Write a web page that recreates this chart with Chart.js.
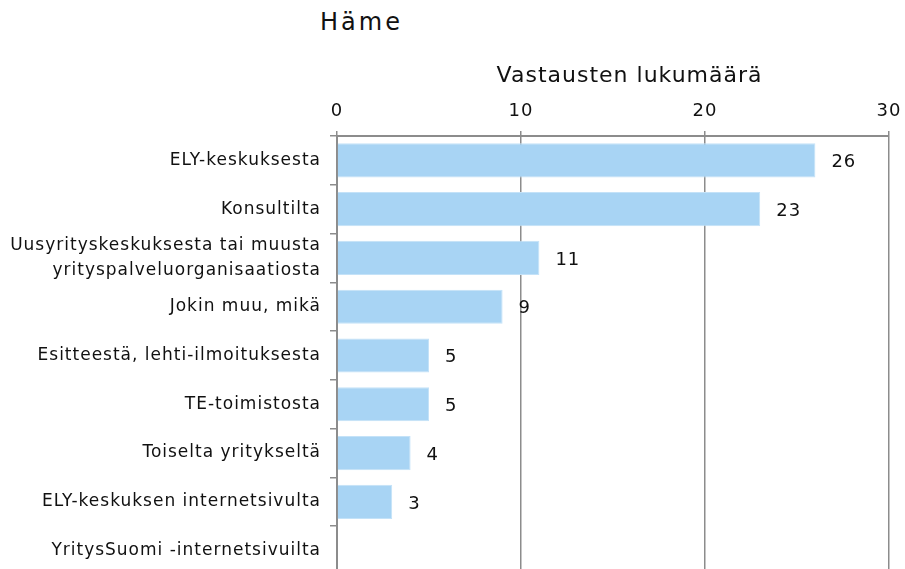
<!DOCTYPE html>
<html>
<head>
<meta charset="utf-8">
<script src="https://cdn.jsdelivr.net/npm/chart.js@4.4.1/dist/chart.umd.min.js"></script>
<style>
  body { margin: 0; background: #fff; }
  #wrap { position: relative; width: 905px; height: 569px; overflow: hidden; }
  #title { position: absolute; left: 320px; top: 8px; font: 24px "DejaVu Sans", sans-serif; letter-spacing: 3px; color: #111; }
  #c { position: absolute; left: 0; top: 0; }
</style>
</head>
<body>
<div id="wrap">
  <div id="title">Häme</div>
  <canvas id="c" width="905" height="579"></canvas>
</div>
<script>
const categories = [
  'ELY-keskuksesta',
  'Konsultilta',
  ['Uusyrityskeskuksesta tai muusta', 'yrityspalveluorganisaatiosta'],
  'Jokin muu, mikä',
  'Esitteestä, lehti-ilmoituksesta',
  'TE-toimistosta',
  'Toiselta yritykseltä',
  'ELY-keskuksen internetsivulta',
  'YritysSuomi -internetsivuilta'
];
const responses = [26, 23, 11, 9, 5, 5, 4, 3, null];
const xTicks = [0, 10, 20, 30];
const axisTitle = 'Vastausten lukumäärä';

const spacing = {
  id: 'spacing',
  beforeUpdate(chart) { chart.ctx.letterSpacing = '1px'; },
  beforeDraw(chart) { chart.ctx.letterSpacing = '1px'; }
};

// axis title, sitting a bit right of centre like the original
const topTitle = {
  id: 'topTitle',
  afterDraw(chart) {
    const ctx = chart.ctx;
    const x = chart.scales.x.getPixelForValue(15.9);
    ctx.save();
    ctx.font = '22px "DejaVu Sans", sans-serif';
    ctx.fillStyle = '#111';
    ctx.textAlign = 'center';
    ctx.textBaseline = 'middle';
    ctx.fillText(axisTitle, x, 76);
    ctx.restore();
  }
};

// value labels to the right of each bar
const valueLabels = {
  id: 'valueLabels',
  afterDatasetsDraw(chart) {
    const ctx = chart.ctx;
    const meta = chart.getDatasetMeta(0);
    ctx.save();
    ctx.font = '18px "DejaVu Sans", sans-serif';
    ctx.fillStyle = '#111';
    ctx.textAlign = 'left';
    ctx.textBaseline = 'middle';
    meta.data.forEach((bar, i) => {
      const v = responses[i];
      if (v == null) return;
      ctx.fillText(String(v), bar.x + 16, bar.y + 2);
    });
    ctx.restore();
  }
};

new Chart(document.getElementById('c'), {
  type: 'bar',
  data: {
    labels: categories,
    datasets: [{
      data: responses,
      backgroundColor: '#a8d4f4',
      borderColor: '#c4e2f8',
      borderWidth: 1,
      barPercentage: 0.7,
      categoryPercentage: 1.0
    }]
  },
  options: {
    indexAxis: 'y',
    responsive: false,
    animation: false,
    layout: { padding: { top: 65, right: 16, bottom: 4, left: 0 } },
    plugins: {
      legend: { display: false },
      tooltip: { enabled: false }
    },
    scales: {
      x: {
        position: 'top',
        min: 0,
        max: 30,
        afterBuildTicks(scale) { scale.ticks = xTicks.map(v => ({ value: v })); },
        afterFit(scale) {
          scale.height = 71;
          scale.paddingLeft = 0;
          scale.paddingRight = 0;
        },
        ticks: {
          color: '#111',
          font: { family: 'DejaVu Sans', size: 18 },
          padding: 9,
          maxRotation: 0
        },
        grid: {
          color: '#8c8c8c',
          lineWidth: 1.5,
          tickLength: 5
        },
        border: { color: '#8c8c8c', width: 2 }
      },
      y: {
        afterFit(scale) {
          scale.width = 337;
          scale.paddingTop = 0;
          scale.paddingBottom = 0;
        },
        ticks: {
          color: '#111',
          font: { family: 'DejaVu Sans', size: 17, lineHeight: 1.45 },
          padding: 9,
          autoSkip: false
        },
        grid: {
          offset: true,
          drawOnChartArea: false,
          color: '#8c8c8c',
          lineWidth: 1.5,
          tickLength: 7
        },
        border: { color: '#8c8c8c', width: 2 }
      }
    }
  },
  plugins: [spacing, topTitle, valueLabels]
});
</script>
</body>
</html>
